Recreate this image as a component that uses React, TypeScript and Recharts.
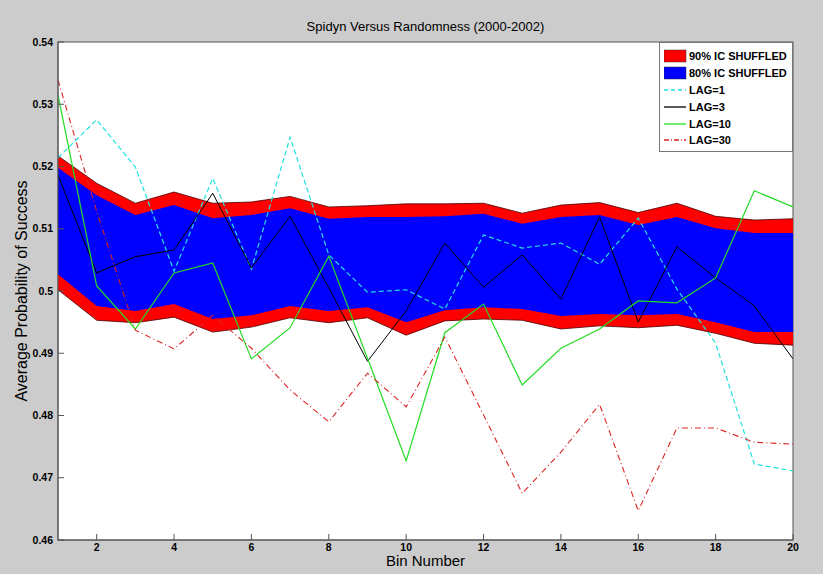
import React from 'react'
import {
  ComposedChart, Area, Line, XAxis, YAxis, Legend
} from 'recharts'

const bins = [1, 2, 3, 4, 5, 6, 7, 8, 9, 10, 11, 12, 13, 14, 15, 16, 17, 18, 19, 20]

// 90% and 80% confidence bands of the shuffled data
const ic90Hi = [0.5217, 0.5173, 0.5141, 0.5159, 0.5141, 0.5143, 0.5152, 0.5135, 0.5137, 0.5140, 0.5140, 0.5141, 0.5125, 0.5138, 0.5142, 0.5126, 0.5141, 0.5120, 0.5114, 0.5116]
const ic80Hi = [0.5198, 0.5154, 0.5122, 0.5138, 0.5117, 0.5122, 0.5133, 0.5116, 0.5119, 0.5119, 0.5120, 0.5124, 0.5108, 0.5119, 0.5122, 0.5106, 0.5119, 0.5101, 0.5093, 0.5093]
const ic80Lo = [0.5027, 0.4976, 0.4968, 0.4979, 0.4955, 0.4961, 0.4976, 0.4968, 0.4974, 0.4950, 0.4969, 0.4974, 0.4971, 0.4960, 0.4963, 0.4961, 0.4963, 0.4950, 0.4934, 0.4934]
const ic90Lo = [0.5002, 0.4953, 0.4949, 0.4958, 0.4934, 0.4942, 0.4957, 0.4949, 0.4957, 0.4929, 0.4952, 0.4955, 0.4953, 0.4939, 0.4944, 0.4941, 0.4945, 0.4932, 0.4916, 0.4913]

const lag1 = [0.5214, 0.5275, 0.5199, 0.5032, 0.5181, 0.5035, 0.5247, 0.5058, 0.4998, 0.5002, 0.4971, 0.5090, 0.5069, 0.5077, 0.5043, 0.5117, 0.5003, 0.4916, 0.4722, 0.4711]
const lag3 = [0.5186, 0.5029, 0.5055, 0.5066, 0.5157, 0.5037, 0.5120, 0.5005, 0.4887, 0.4968, 0.5077, 0.5006, 0.5058, 0.4987, 0.5119, 0.4950, 0.5071, 0.5021, 0.4976, 0.4891]
const lag10 = [0.5315, 0.5008, 0.4939, 0.5029, 0.5045, 0.4891, 0.4941, 0.5056, 0.4892, 0.4727, 0.4933, 0.4979, 0.4849, 0.4908, 0.4939, 0.4984, 0.4981, 0.5021, 0.5161, 0.5135]
const lag30 = [0.5339, 0.5128, 0.4937, 0.4907, 0.4961, 0.4908, 0.4841, 0.4790, 0.4868, 0.4814, 0.4926, 0.4801, 0.4675, 0.4741, 0.4818, 0.4647, 0.4780, 0.4780, 0.4757, 0.4754]

const xTicks = [2, 4, 6, 8, 10, 12, 14, 16, 18, 20]
const yTicks = [0.46, 0.47, 0.48, 0.49, 0.5, 0.51, 0.52, 0.53, 0.54]

const data = bins.map((bin, i) => ({
  bin,
  ic90: [ic90Lo[i], ic90Hi[i]],
  ic80: [ic80Lo[i], ic80Hi[i]],
  lag1: lag1[i],
  lag3: lag3[i],
  lag10: lag10[i],
  lag30: lag30[i],
}))

const font = '"Liberation Sans", Arial, sans-serif'
const tickStyle = { fontSize: 10.5, fontWeight: 'bold' as const, fill: '#000', fontFamily: font }
const axisColor = '#555'
const noLabel = () => <g />

const legendItems = [
  { label: '90% IC SHUFFLED', kind: 'box', color: '#ff0000' },
  { label: '80% IC SHUFFLED', kind: 'box', color: '#0000ff' },
  { label: 'LAG=1', kind: 'line', color: '#22e0e0', dash: '4 3' },
  { label: 'LAG=3', kind: 'line', color: '#000000', dash: '' },
  { label: 'LAG=10', kind: 'line', color: '#22dd22', dash: '' },
  { label: 'LAG=30', kind: 'line', color: '#dd2222', dash: '5 2 1 2' },
]

function LegendBox() {
  return (
    <div style={{
      width: 134, height: 110, background: '#fff', border: '1px solid #777',
      boxSizing: 'border-box', padding: '5px 0 0 4px', fontFamily: font,
    }}>
      {legendItems.map((it) => (
        <div key={it.label} style={{ display: 'flex', alignItems: 'center', height: 16.8 }}>
          <svg width={23} height={14} style={{ marginRight: 2 }}>
            {it.kind === 'box'
              ? <rect x={0} y={1} width={22} height={12} fill={it.color} stroke="#333" strokeWidth={0.5} />
              : <line x1={0} y1={7} x2={22} y2={7} stroke={it.color} strokeWidth={1.3} strokeDasharray={it.dash} />}
          </svg>
          <span style={{ fontSize: 11, fontWeight: 'bold', color: '#000', whiteSpace: 'nowrap' }}>{it.label}</span>
        </div>
      ))}
    </div>
  )
}

const fmt = (v: number) => String(Number(v.toFixed(2)))

export default function App() {
  return (
    <div style={{ position: 'absolute', left: 0, top: 0, width: 823, height: 574, background: '#cccccc', fontFamily: font }}>
      <div style={{ position: 'absolute', left: 0, width: 851, top: 19, textAlign: 'center', fontSize: 13, color: '#000' }}>
        Spidyn Versus Randomness (2000-2002)
      </div>
      <div style={{
        position: 'absolute', left: 22, top: 291, transform: 'translate(-50%, -50%) rotate(-90deg)',
        fontSize: 16, whiteSpace: 'nowrap', color: '#000',
      }}>
        Average Probability of Success
      </div>
      <div style={{ position: 'absolute', left: 0, width: 851, top: 552, textAlign: 'center', fontSize: 15, color: '#000', fontFamily: '"Liberation Sans Narrow", ' + font }}>
        Bin Number
      </div>
      <ComposedChart
        width={823}
        height={574}
        data={data}
        margin={{ top: 42, right: 30, left: 0, bottom: 0 }}
        style={{ position: 'absolute', left: 0, top: 0 }}
      >
        <rect x={58} y={42} width={735} height={498} fill="#fff" stroke={axisColor} />
        <XAxis
          dataKey="bin" type="number" domain={[1, 20]} ticks={xTicks}
          height={34} tick={tickStyle} tickSize={-6} tickMargin={10}
          stroke={axisColor} allowDataOverflow
        />
        <XAxis
          xAxisId="top" orientation="top" dataKey="bin" type="number" domain={[1, 20]} ticks={xTicks}
          height={0} tick={noLabel} tickSize={-6} stroke={axisColor}
        />
        <YAxis
          domain={[0.46, 0.54]} ticks={yTicks} width={58} tick={tickStyle}
          tickSize={-6} tickMargin={11} tickFormatter={fmt} stroke={axisColor} allowDataOverflow
        />
        <YAxis
          yAxisId="right" orientation="right" domain={[0.46, 0.54]} ticks={yTicks}
          width={0} tick={noLabel} tickSize={-6} stroke={axisColor}
        />
        <Legend
          layout="vertical" align="center" verticalAlign="middle"
          wrapperStyle={{ left: 659, top: 42, width: 134, height: 110 }}
          content={() => <LegendBox />}
        />
        <Area
          dataKey="ic90" type="linear" fill="#ff0000" fillOpacity={1}
          stroke="#4a0000" strokeWidth={0.8} isAnimationActive={false} dot={false} activeDot={false}
        />
        <Area
          dataKey="ic80" type="linear" fill="#0000ff" fillOpacity={1}
          stroke="none" isAnimationActive={false} dot={false} activeDot={false}
        />
        <Line dataKey="lag1" type="linear" stroke="#22e0e0" strokeWidth={1.2} strokeDasharray="5 3" dot={false} isAnimationActive={false} />
        <Line dataKey="lag3" type="linear" stroke="#000" strokeWidth={1} dot={false} isAnimationActive={false} />
        <Line dataKey="lag10" type="linear" stroke="#22dd22" strokeWidth={1.2} dot={false} isAnimationActive={false} />
        <Line dataKey="lag30" type="linear" stroke="#dd2222" strokeWidth={1.1} strokeDasharray="6 3 1 3" dot={false} isAnimationActive={false} />
      </ComposedChart>
    </div>
  )
}
